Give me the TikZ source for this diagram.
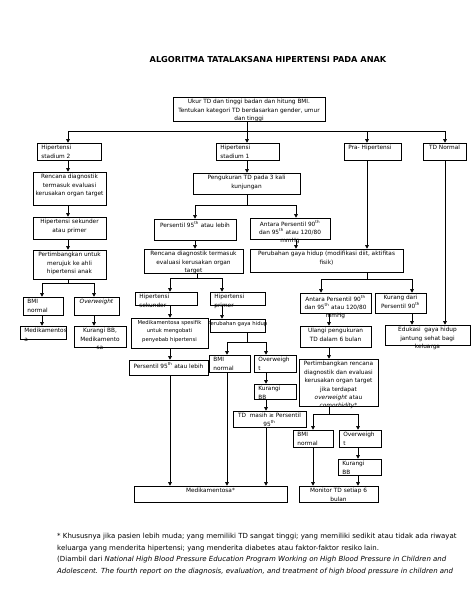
\documentclass[tikz,border=0pt]{standalone}
\usepackage{fontspec}
\setmainfont{DejaVu Sans}
\usetikzlibrary{arrows.meta}
\tikzset{
  bx/.style={draw, line width=0.6pt, inner sep=0pt, rectangle},
  tx/.style={inner sep=0pt, font=\fontsize{5.8}{8.4}\selectfont},
  arr/.style={-{Triangle[length=3.6pt,width=3.6pt]}},
  ln/.style={line width=0.6pt},
}
\newcommand\bxc[6]{%
  \node[bx, minimum width={(#3-#1)*1pt}, minimum height={(#4-#2)*1pt}] (#5) at ({(#1+#3)/2},{-(#2+#4)/2}) {};
  \node[tx, align=center, anchor=north] (#5-t) at ([yshift=-2.5pt]#5.north) {#6};}
\newcommand\bxl[6]{%
  \node[bx, minimum width={(#3-#1)*1pt}, minimum height={(#4-#2)*1pt}] (#5) at ({(#1+#3)/2},{-(#2+#4)/2}) {};
  \node[tx, align=left, anchor=north west] (#5-t) at ([xshift=4.5pt,yshift=-2.5pt]#5.north west) {#6};}
\newcommand\smtx{\fontsize{5.3}{8.4}\selectfont}
\begin{document}
\begin{tikzpicture}[x=1pt,y=1pt]
\useasboundingbox[fill=white] (0,0) rectangle (474,-613);
\foreach \x in {42,68,94,170,195,197,222,227,247,266,296,313,321,329,358,367,412,445}
  \coordinate (v\x) at (\x,0);
\foreach \y in {131,205,278,279,283,342,414}
  \coordinate (h\y) at (0,-\y);

\node[inner sep=0pt, font=\fontsize{8.2}{10}\selectfont\bfseries] (title) at (268,-60) {ALGORITMA TATALAKSANA HIPERTENSI PADA ANAK};

\bxc{173}{97}{325}{121}{ukur}{Ukur TD dan tinggi badan dan hitung BMI.\\Tentukan kategori TD berdasarkan gender, umur\\dan tinggi}
\bxl{37}{143}{101}{160}{s2}{Hipertensi\\stadium 2}
\bxl{216}{143}{279}{160}{s1}{Hipertensi\\stadium 1}
\bxl{344}{143}{401}{160}{pra}{Pra- Hipertensi}
\bxc{423}{143}{466}{160}{tdn}{TD Normal}

% left column
\bxc{33}{172}{106}{205}{rd2}{Rencana diagnostik\\termasuk evaluasi\\kerusakan organ target}
\bxc{33}{217}{106}{239}{hsp}{Hipertensi sekunder\\atau primer}
\bxc{33}{250}{106}{279}{prj}{Pertimbangkan untuk\\merujuk ke ahli\\hipertensi anak}
\bxl{23}{297}{63}{315}{bmi2}{BMI\\normal}
\bxc{74}{297}{119}{315}{ow2}{\itshape Overweight}
\bxl{20}{326}{66}{339}{med2}{Medikamentos\\a}
\bxc{74}{326}{126}{347}{kbm2}{Kurangi BB,\\Medikamento\\sa}

% middle column
\bxc{193}{173}{300}{194}{ptd}{Pengukuran TD pada 3 kali\\kunjungan}
\bxc{154}{219}{236}{240}{p95a}{Persentil 95\textsuperscript{th} atau lebih}
\bxc{250}{218}{330}{239}{ant1}{Antara Persentil 90\textsuperscript{th}\\dan 95\textsuperscript{th} atau 120/80\\mmHg}
\bxc{144}{249}{243}{273}{rd1}{Rencana diagnostik termasuk\\evaluasi kerusakan organ\\target}
\bxc{250}{249}{403}{272}{pgh1}{Perubahan gaya hidup (modifikasi diit, aktifitas\\fisik)}
\bxl{135}{292}{197}{305}{hsek}{Hipertensi\\sekunder}
\bxl{210}{292}{265}{305}{hpri}{Hipertensi\\primer}
\bxc{131}{318}{208}{348}{mss}{\smtx Medikamentosa spesifik\\\smtx untuk mengobati\\\smtx penyebab hipertensi}
\bxc{210}{319}{265}{332}{pgh2}{\smtx Perubahan gaya hidup}
\bxc{129}{360}{208}{375}{p95b}{Persentil 95\textsuperscript{th} atau lebih}
\bxl{209}{355}{250}{372}{bmi1}{BMI\\normal}
\bxl{254}{355}{296}{372}{ow1}{Overweigh\\t}
\bxl{254}{384}{296}{399}{kbb1}{Kurangi\\BB}
\bxc{233}{411}{306}{427}{tdm}{TD\ \ masih ≥ Persentil\\95\textsuperscript{th}}
\bxc{134}{486}{287}{502}{med}{Medikamentosa*}

% right column
\bxc{300}{293}{371}{313}{ant2}{Antara Persentil 90\textsuperscript{th}\\dan 95\textsuperscript{th} atau 120/80\\mmHg}
\bxc{375}{293}{426}{313}{kur}{Kurang dari\\Persentil 90\textsuperscript{th}}
\bxc{300}{326}{371}{347}{ul}{Ulangi pengukuran\\TD dalam 6 bulan}
\bxc{385}{325}{470}{345}{edu}{Edukasi\ \ gaya hidup\\jantung sehat bagi\\keluarga}
\bxc{299}{359}{378}{406}{ptb}{Pertimbangkan rencana\\diagnostik dan evaluasi\\kerusakan organ target\\jika terdapat\\\textit{overweight} atau\\\textit{comorbidity}*}
\bxl{293}{430}{333}{447}{bmi3}{BMI\\normal}
\bxl{339}{430}{381}{447}{ow3}{Overweigh\\t}
\bxl{338}{459}{381}{475}{kbb3}{Kurangi\\BB}
\bxc{299}{486}{378}{502}{mon}{Monitor TD setiap 6\\bulan}

% connectors top
\draw[ln] (ukur.south -| v247) -- (v247 |- h131);
\draw[ln] (v68 |- h131) -- (v445 |- h131);
\draw[ln,arr] (v68 |- h131) -- (s2.north -| v68);
\draw[ln,arr] (v247 |- h131) -- (s1.north -| v247);
\draw[ln,arr] (v367 |- h131) -- (pra.north -| v367);
\draw[ln,arr] (v445 |- h131) -- (tdn.north -| v445);

% left
\draw[ln,arr] (s2.south -| v68) -- (rd2.north -| v68);
\draw[ln,arr] (rd2.south -| v68) -- (hsp.north -| v68);
\draw[ln,arr] (hsp.south -| v68) -- (prj.north -| v68);
\draw[ln] (prj.south -| v68) -- (v68 |- h283);
\draw[ln] (v42 |- h283) -- (v94 |- h283);
\draw[ln,arr] (v42 |- h283) -- (bmi2.north -| v42);
\draw[ln,arr] (v94 |- h283) -- (ow2.north -| v94);
\draw[ln,arr] (bmi2.south -| v42) -- (med2.north -| v42);
\draw[ln,arr] (ow2.south -| v94) -- (kbm2.north -| v94);

% middle
\draw[ln,arr] (s1.south -| v247) -- (ptd.north -| v247);
\draw[ln] (ptd.south -| v247) -- (v247 |- h205);
\draw[ln] (v195 |- h205) -- (v296 |- h205);
\draw[ln,arr] (v195 |- h205) -- (p95a.north -| v195);
\draw[ln,arr] (v296 |- h205) -- (ant1.north -| v296);
\draw[ln,arr] (p95a.south -| v195) -- (rd1.north -| v195);
\draw[ln,arr] (ant1.south -| v296) -- (pgh1.north -| v296);
\draw[ln,arr] (pra.south -| v367) -- (pgh1.north -| v367);
\draw[ln,arr] (tdn.south -| v445) -- (edu.north -| v445);
\draw[ln] (rd1.south -| v197) -- (v197 |- h278);
\draw[ln] (v170 |- h278) -- (v222 |- h278);
\draw[ln,arr] (v170 |- h278) -- (hsek.north -| v170);
\draw[ln,arr] (v222 |- h278) -- (hpri.north -| v222);
\draw[ln,arr] (hsek.south -| v170) -- (mss.north -| v170);
\draw[ln,arr] (hpri.south -| v222) -- (pgh2.north -| v222);
\draw[ln,arr] (mss.south -| v170) -- (p95b.north -| v170);
\draw[ln] (pgh2.south -| v247) -- (v247 |- h342);
\draw[ln] (v227 |- h342) -- (v266 |- h342);
\draw[ln,arr] (v227 |- h342) -- (bmi1.north -| v227);
\draw[ln,arr] (v266 |- h342) -- (ow1.north -| v266);
\draw[ln,arr] (ow1.south -| v266) -- (kbb1.north -| v266);
\draw[ln,arr] (kbb1.south -| v266) -- (tdm.north -| v266);
\draw[ln,arr] (p95b.south -| v170) -- (med.north -| v170);
\draw[ln,arr] (bmi1.south -| v227) -- (med.north -| v227);
\draw[ln,arr] (tdm.south -| v266) -- (med.north -| v266);

% right
\draw[ln] (pgh1.south -| v367) -- (v367 |- h279);
\draw[ln] (v321 |- h279) -- (v412 |- h279);
\draw[ln,arr] (v321 |- h279) -- (ant2.north -| v321);
\draw[ln,arr] (v412 |- h279) -- (kur.north -| v412);
\draw[ln,arr] (ant2.south -| v329) -- (ul.north -| v329);
\draw[ln,arr] (ul.south -| v329) -- (ptb.north -| v329);
\draw[ln,arr] (kur.south -| v412) -- (edu.north -| v412);
\draw[ln] (ptb.south -| v329) -- (v329 |- h414);
\draw[ln] (v313 |- h414) -- (v358 |- h414);
\draw[ln,arr] (v313 |- h414) -- (bmi3.north -| v313);
\draw[ln,arr] (v358 |- h414) -- (ow3.north -| v358);
\draw[ln,arr] (ow3.south -| v358) -- (kbb3.north -| v358);
\draw[ln,arr] (kbb3.south -| v358) -- (mon.north -| v358);
\draw[ln,arr] (bmi3.south -| v313) -- (mon.north -| v313);

% footnote
\node[inner sep=0pt, anchor=north west, align=left, font=\fontsize{7}{11.6}\selectfont] (fn) at (57,-533) {* Khususnya jika pasien lebih muda; yang memiliki TD sangat tinggi; yang memiliki sedikit atau tidak ada riwayat\\keluarga yang menderita hipertensi; yang menderita diabetes atau faktor-faktor resiko lain.\\(Diambil dari \textit{National High Blood Pressure Education Program Working on High Blood Pressure in Children and}\\\textit{Adolescent. The fourth report on the diagnosis, evaluation, and treatment of high blood pressure in children and}};
\end{tikzpicture}
\end{document}
